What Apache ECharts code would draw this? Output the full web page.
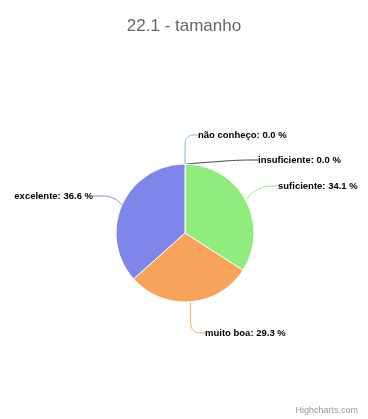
<!DOCTYPE html>
<html>
<head>
<meta charset="utf-8">
<script src="https://cdn.jsdelivr.net/npm/echarts@6/dist/echarts.min.js"></script>
<style>
  html, body { margin: 0; padding: 0; background: #fff; }
  #chart { width: 368px; height: 419px; }
</style>
</head>
<body>
<div id="chart"></div>
<script>
// slices in drawing order (clockwise from 12 o'clock)
const categories = ['não conheço', 'insuficiente', 'suficiente', 'muito boa', 'excelente'];
const percents = [0.0, 0.0, 34.1, 29.3, 36.6];
const colors = ['#7cb5ec', '#434348', '#90ed7d', '#f7a35c', '#8085e9'];

// where each label sits: [x, y, align]
const labelSpots = [
  [198, 135, 'left'],
  [258, 160, 'left'],
  [278, 186, 'left'],
  [205, 333, 'left'],
  [93, 196, 'right']
];

const chart = echarts.init(document.getElementById('chart'));
const option = {
  backgroundColor: '#fff',
  animation: false,
  title: {
    text: '22.1 - tamanho',
    left: 'center',
    top: 13,
    textStyle: { color: '#666', fontSize: 17, fontWeight: 'normal', fontFamily: 'Liberation Sans' }
  },
  graphic: [{
    type: 'text',
    right: 10,
    bottom: 4,
    style: { text: 'Highcharts.com', fill: '#999', fontSize: 9, fontFamily: 'Liberation Sans' }
  }],
  series: [{
    type: 'pie',
    center: [185, 233],
    radius: 69,
    startAngle: 90,
    clockwise: true,
    data: categories.map((c, i) => ({ name: c, value: percents[i], itemStyle: { color: colors[i] } })),
    itemStyle: { borderColor: '#fff', borderWidth: 1 },
    label: {
      show: true,
      overflow: 'none',
      edgeDistance: 0,
      formatter: p => p.name + ': ' + p.value.toFixed(1) + ' %',
      color: '#000',
      fontSize: 9.5,
      fontWeight: 'bold',
      fontFamily: 'Liberation Sans'
    },
    labelLine: { show: true, length: 12, length2: 20, smooth: 0.4, lineStyle: { width: 1 } },
    labelLayout: function (params) {
      const s = labelSpots[params.dataIndex];
      return { x: s[0], y: s[1], align: s[2], verticalAlign: 'middle', width: 120 };
    },
    emphasis: { disabled: true }
  }]
};
chart.setOption(option);
</script>
</body>
</html>
